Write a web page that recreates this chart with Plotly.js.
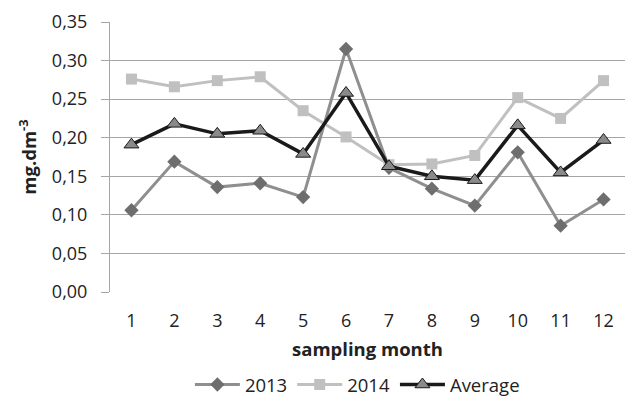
<!DOCTYPE html>
<html><head><meta charset="utf-8">
<script src="https://cdn.plot.ly/plotly-3.0.1.min.js"></script>
<style>html,body{margin:0;padding:0;background:#fff}#c{width:627px;height:401px}</style>
</head><body><div id="c"></div>
<script>
var months = [1,2,3,4,5,6,7,8,9,10,11,12];
var s2013 = [0.106,0.169,0.136,0.141,0.123,0.315,0.161,0.134,0.112,0.181,0.086,0.120];
var s2014 = [0.276,0.266,0.274,0.279,0.235,0.201,0.165,0.166,0.177,0.252,0.225,0.274];
var avg   = [0.191,0.218,0.205,0.209,0.179,0.258,0.163,0.150,0.145,0.216,0.155,0.197];
var yTicks = [0,0.05,0.10,0.15,0.20,0.25,0.30,0.35];

var F = "Open Sans, Liberation Sans, sans-serif";
var traces = [
 {x:months,y:s2013,name:'2013',mode:'lines+markers',line:{color:'#8f8f8f',width:3},
  marker:{symbol:'diamond',size:11,color:'#6e6e6e'}},
 {x:months,y:s2014,name:'2014',mode:'lines+markers',line:{color:'#c0c0c0',width:3},
  marker:{symbol:'square',size:11,color:'#c0c0c0'}},
 {x:months,y:avg,name:'Average',mode:'lines+markers',line:{color:'#1a1a1a',width:3.5},
  marker:{symbol:'triangle-up',size:13,color:'#8a8a8a',line:{color:'#1a1a1a',width:1}}}
];
var layout = {
 width:627,height:401,paper_bgcolor:'#fff',plot_bgcolor:'#fff',
 separators:',.',
 margin:{l:110,r:2,t:22,b:109,autoexpand:false},
 font:{family:F,size:18,color:'#222'},
 showlegend:true,
 legend:{orientation:'h',xref:'container',yref:'container',x:0.57,xanchor:'center',y:0.04,yanchor:'middle',
   font:{size:18.5},traceorder:'normal',itemwidth:45},
 xaxis:{type:'linear',range:[0.5,12.5],tickvals:months,ticktext:months.map(String),automargin:false,
   showgrid:false,zeroline:false,showline:false,ticks:'',ticklabelstandoff:16,
   title:{text:'<b>sampling month</b>',font:{size:18.5},standoff:12}},
 yaxis:{range:[0,0.35],tickvals:yTicks,tickformat:'.2f',showgrid:true,gridcolor:'#a6a6a6',gridwidth:1,automargin:false,
   zeroline:false,showline:true,linecolor:'#a6a6a6',ticks:'outside',ticklen:8,tickcolor:'#a6a6a6',
   ticklabelstandoff:10,
   title:{text:'<b>mg.dm<sup>-3</sup></b>',font:{size:18.5},standoff:10}}
};
Plotly.newPlot('c',traces,layout,{displayModeBar:false,staticPlot:true});
</script></body></html>
